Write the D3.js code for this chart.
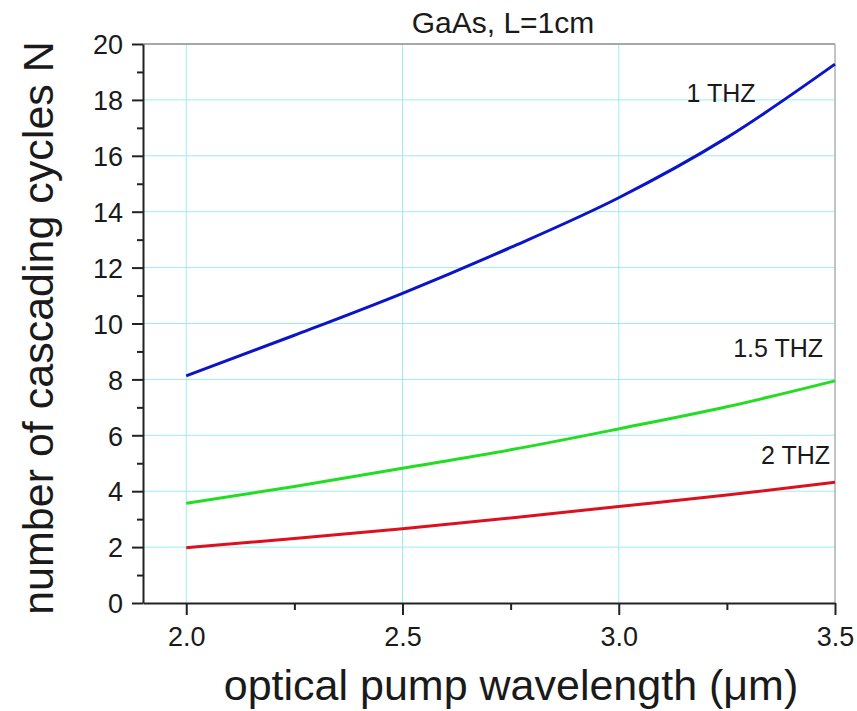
<!DOCTYPE html>
<html><head><meta charset="utf-8">
<script src="https://cdn.jsdelivr.net/npm/d3@7"></script>
<style>body{margin:0;background:#fff}svg{display:block}text{font-family:"Liberation Sans",Arial,Helvetica,sans-serif;fill:#1a1a1a}</style>
</head><body><svg id="c" width="857" height="711"></svg>
<script>
const wavelengths = [2.0, 2.25, 2.5, 2.75, 3.0, 3.25, 3.5];
const n1THz   = [8.13, 9.58, 11.08, 12.72, 14.5, 16.65, 19.28];
const n15THz  = [3.57, 4.17, 4.82, 5.48, 6.23, 7.02, 7.95];
const n2THz   = [1.98, 2.31, 2.66, 3.04, 3.45, 3.86, 4.32];
const seriesNames = ["1 THZ", "1.5 THZ", "2 THZ"];
const xTicks = [2.0, 2.5, 3.0, 3.5];
const xMinor = [2.25, 2.75, 3.25];
const yTicks = [0, 2, 4, 6, 8, 10, 12, 14, 16, 18, 20];
const yMinor = [1, 3, 5, 7, 9, 11, 13, 15, 17, 19];

const svg = d3.select("#c");
const L = 143, R = 835, T = 44, B = 603;
const x = d3.scaleLinear().domain([1.9, 3.5]).range([L, R]);
const y = d3.scaleLinear().domain([0, 20]).range([B, T]);

// grid
const g = svg.append("g");
g.selectAll("line.gx").data(xTicks.slice(0, 3)).enter().append("line")
  .attr("x1", d => x(d)).attr("x2", d => x(d)).attr("y1", T).attr("y2", B)
  .attr("stroke", "#9eecf0").attr("stroke-width", 1);
g.selectAll("line.gy").data(yTicks.filter(d => d > 0 && d < 20)).enter().append("line")
  .attr("y1", d => y(d)).attr("y2", d => y(d)).attr("x1", L).attr("x2", R)
  .attr("stroke", "#9eecf0").attr("stroke-width", 1);

// frame top/right
svg.append("line").attr("x1", L).attr("x2", R).attr("y1", T).attr("y2", T).attr("stroke", "#8a8a8a").attr("stroke-width", 1.5);
svg.append("line").attr("x1", R).attr("x2", R).attr("y1", T).attr("y2", B).attr("stroke", "#b0b0b0").attr("stroke-width", 1.5);

// curves
const series = [
  {name: seriesNames[0], vals: n1THz, color: "#0a14c8"},
  {name: seriesNames[1], vals: n15THz, color: "#22dd22"},
  {name: seriesNames[2], vals: n2THz, color: "#dd1020"}
];
const line = d3.line().x(d => x(d[0])).y(d => y(d[1])).curve(d3.curveMonotoneX);
series.forEach(s => {
  svg.append("path").datum(wavelengths.map((w, i) => [w, s.vals[i]]))
    .attr("d", line).attr("fill", "none").attr("stroke", s.color).attr("stroke-width", 3);
});

// axes
const xAxis = d3.axisBottom(x).tickValues(xTicks).tickSize(12).tickSizeOuter(0).tickFormat(d3.format(".1f"));
const xa = svg.append("g").attr("transform", `translate(0,${B})`).call(xAxis);
xa.select(".domain").attr("stroke", "#222").attr("stroke-width", 2);
xa.selectAll(".tick line").attr("stroke", "#222").attr("stroke-width", 2);
xa.selectAll(".tick text").attr("font-size", 27).attr("dy", 0).attr("y", 43).attr("fill", "#1a1a1a");
svg.append("g").attr("transform", `translate(0,${B})`).call(d3.axisBottom(x).tickValues(xMinor).tickSize(7).tickFormat(""))
  .call(a => { a.select(".domain").remove(); a.selectAll(".tick line").attr("stroke", "#222").attr("stroke-width", 2); });

const yAxis = d3.axisLeft(y).tickValues(yTicks).tickSize(11).tickSizeOuter(0).tickFormat(d3.format("d"));
const ya = svg.append("g").attr("transform", `translate(${L},0)`).call(yAxis);
ya.select(".domain").attr("stroke", "#222").attr("stroke-width", 2);
ya.selectAll(".tick line").attr("stroke", "#222").attr("stroke-width", 2);
ya.selectAll(".tick text").attr("font-size", 27).attr("x", -20).attr("dy", "0.36em").attr("fill", "#1a1a1a");
svg.append("g").attr("transform", `translate(${L},0)`).call(d3.axisLeft(y).tickValues(yMinor).tickSize(6).tickFormat(""))
  .call(a => { a.select(".domain").remove(); a.selectAll(".tick line").attr("stroke", "#222").attr("stroke-width", 2); });

// labels
svg.append("text").attr("x", 503).attr("y", 33).attr("text-anchor", "middle").attr("font-size", 30).text("GaAs, L=1cm");
svg.append("text").attr("x", 721).attr("y", 102).attr("text-anchor", "middle").attr("font-size", 25).text(seriesNames[0]);
svg.append("text").attr("x", 823).attr("y", 357).attr("text-anchor", "end").attr("font-size", 25).text(seriesNames[1]);
svg.append("text").attr("x", 830).attr("y", 464).attr("text-anchor", "end").attr("font-size", 25).text(seriesNames[2]);

svg.append("text").attr("x", 511).attr("y", 700).attr("text-anchor", "middle").attr("font-size", 43).text("optical pump wavelength (μm)");
svg.append("text").attr("transform", "translate(53,328) rotate(-90)").attr("text-anchor", "middle").attr("font-size", 43).text("number of cascading cycles N");
</script></body></html>
